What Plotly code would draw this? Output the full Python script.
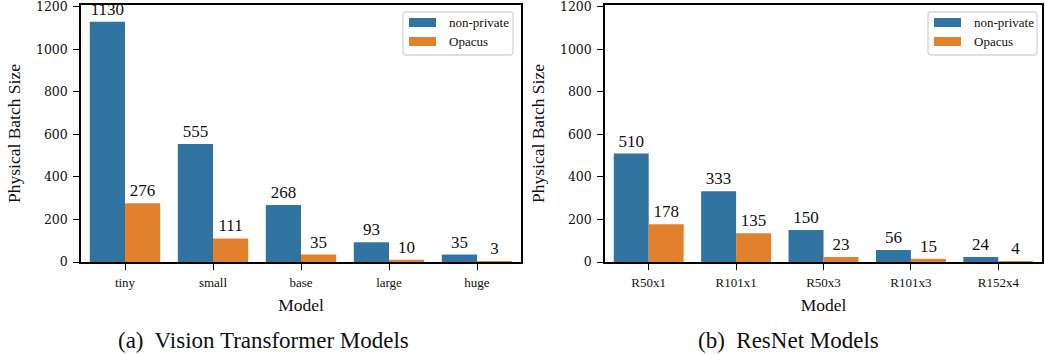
import plotly.graph_objects as go

W, H = 1045, 354

# Physical batch sizes per model
vit_models = ["tiny", "small", "base", "large", "huge"]
vit_nonprivate = [1130, 555, 268, 93, 35]
vit_opacus = [276, 111, 35, 10, 3]

resnet_models = ["R50x1", "R101x1", "R50x3", "R101x3", "R152x4"]
resnet_nonprivate = [510, 333, 150, 56, 24]
resnet_opacus = [178, 135, 23, 15, 4]

series_names = ["non-private", "Opacus"]
colors = ["#3274a1", "#e1812c"]
y_ticks = [0, 200, 400, 600, 800, 1000, 1200]

SERIF = "Liberation Serif"
TXT = "#111111"


def px(x):
    return x / W


def py(y):
    return 1 - y / H


fig = go.Figure()

panels = [
    ("x", "y", vit_models, [vit_nonprivate, vit_opacus]),
    ("x2", "y2", resnet_models, [resnet_nonprivate, resnet_opacus]),
]
for xa, ya, cats, vals in panels:
    for name, col, v in zip(series_names, colors, vals):
        fig.add_trace(go.Bar(
            x=cats, y=v, name=name, xaxis=xa, yaxis=ya,
            marker=dict(color=col, line=dict(width=0)),
            text=[str(t) for t in v], textposition="outside",
            textfont=dict(family=SERIF, size=17, color=TXT),
            constraintext="none", cliponaxis=False, showlegend=False,
        ))

ydom = [py(262), py(5)]
common_x = dict(
    automargin=False,
    showline=True, linecolor="black", linewidth=1.5, mirror=True,
    ticks="outside", ticklen=6, tickwidth=1.3, tickcolor="black",
    tickfont=dict(family=SERIF, size=13, color=TXT),
    ticklabelstandoff=2,
    showgrid=False, zeroline=False,
    title=dict(text="Model", font=dict(family=SERIF, size=17.5, color=TXT), standoff=9),
)
common_y = dict(
    automargin=False,
    range=[0, 1209], tickvals=y_ticks,
    showline=True, linecolor="black", linewidth=1.5, mirror=True,
    ticks="outside", ticklen=6, tickwidth=1.3, tickcolor="black",
    tickfont=dict(family="DejaVu Serif", size=12.5, color=TXT),
    ticklabelstandoff=3, ticklabeloverflow="allow",
    showgrid=False, zeroline=False, domain=ydom,
    title=dict(text="Physical Batch Size", font=dict(family=SERIF, size=17.5, color=TXT), standoff=11),
)

fig.update_layout(
    width=W, height=H,
    margin=dict(l=0, r=0, t=0, b=0, autoexpand=False),
    paper_bgcolor="white", plot_bgcolor="white",
    barmode="group", bargap=0.2, bargroupgap=0,
    xaxis=dict(domain=[px(81), px(521)], anchor="y", **common_x),
    yaxis=dict(anchor="x", **common_y),
    xaxis2=dict(domain=[px(605), px(1042)], anchor="y2", **common_x),
    yaxis2=dict(anchor="x2", **common_y),
    showlegend=False,
)

# Legends drawn as boxes with colour patches
shapes = []
annotations = []
for bx0, bx1 in [(403, 513), (928, 1037)]:
    by0, by1 = 12, 55
    r = 3
    path = (
        f"M {px(bx0 + r)},{py(by0)} L {px(bx1 - r)},{py(by0)} "
        f"Q {px(bx1)},{py(by0)} {px(bx1)},{py(by0 + r)} "
        f"L {px(bx1)},{py(by1 - r)} Q {px(bx1)},{py(by1)} {px(bx1 - r)},{py(by1)} "
        f"L {px(bx0 + r)},{py(by1)} Q {px(bx0)},{py(by1)} {px(bx0)},{py(by1 - r)} "
        f"L {px(bx0)},{py(by0 + r)} Q {px(bx0)},{py(by0)} {px(bx0 + r)},{py(by0)} Z"
    )
    shapes.append(dict(type="path", xref="paper", yref="paper", path=path,
                       line=dict(color="#d6d6d6", width=1.3), fillcolor="rgba(255,255,255,0.8)"))
    for i, (name, col) in enumerate(zip(series_names, colors)):
        y0 = 18 + 19 * i
        shapes.append(dict(type="rect", xref="paper", yref="paper",
                           x0=px(bx0 + 6), x1=px(bx0 + 33), y0=py(y0), y1=py(y0 + 9),
                           fillcolor=col, line=dict(width=0)))
        annotations.append(dict(xref="paper", yref="paper", x=px(bx0 + 44), y=py(y0 + 4.5),
                                text=name, showarrow=False, xanchor="left", yanchor="middle",
                                font=dict(family=SERIF, size=13, color=TXT)))

# Sub-figure captions
annotations.append(dict(xref="paper", yref="paper", x=px(263), y=py(340),
                        text="(a)\u00a0 Vision Transformer Models", showarrow=False,
                        xanchor="center", yanchor="middle",
                        font=dict(family=SERIF, size=23, color=TXT)))
annotations.append(dict(xref="paper", yref="paper", x=px(788), y=py(340),
                        text="(b)\u00a0 ResNet Models", showarrow=False,
                        xanchor="center", yanchor="middle",
                        font=dict(family=SERIF, size=23, color=TXT)))

fig.update_layout(shapes=shapes, annotations=annotations)

fig.write_html("out.html")
